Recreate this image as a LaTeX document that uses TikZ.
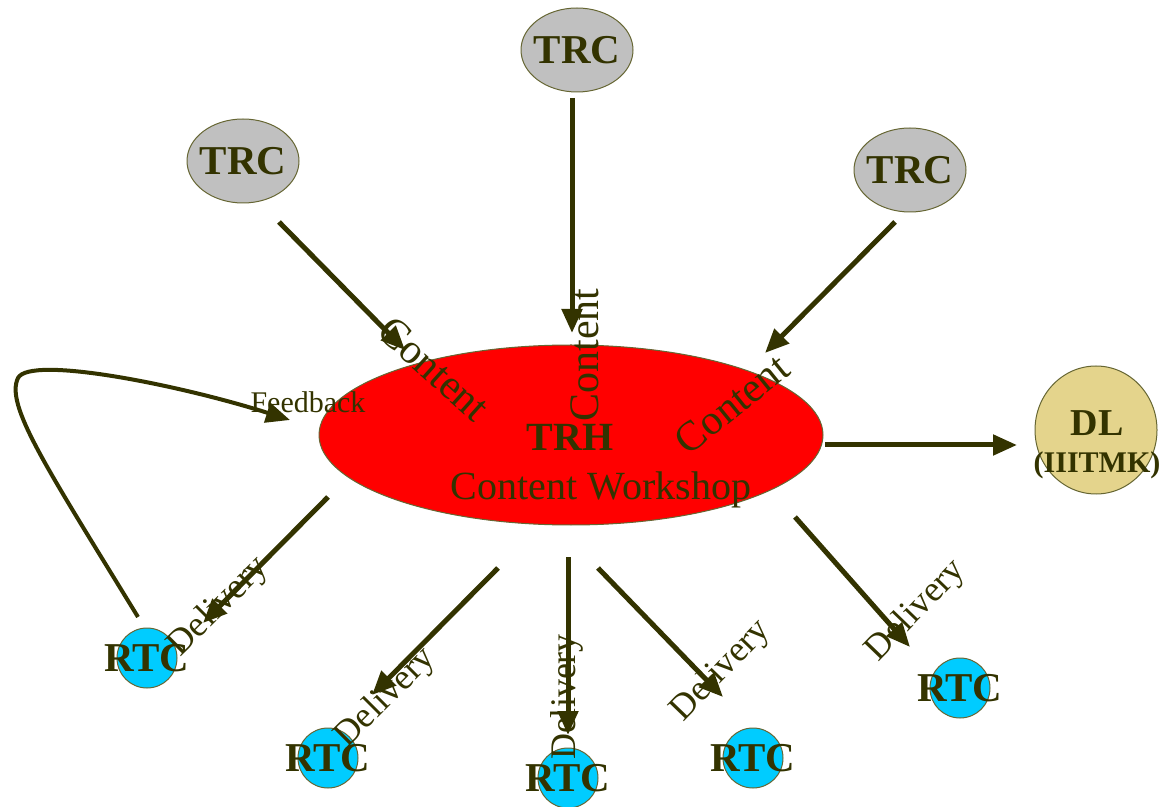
\documentclass[tikz,border=0pt]{standalone}
\usepackage{fontspec}
\setmainfont{Liberation Serif}
\usetikzlibrary{arrows.meta,shapes.geometric}
\definecolor{ink}{RGB}{51,51,0}
\definecolor{rim}{RGB}{102,102,51}
\definecolor{trcgray}{RGB}{192,192,192}
\definecolor{dlkhaki}{RGB}{228,212,140}
\definecolor{rtccyan}{RGB}{0,204,255}

\begin{document}
\begin{tikzpicture}[x=0.5pt,y=-0.5pt,
    flow/.style={ink,line width=2.5pt,-{Triangle[length=12pt,width=10pt]}},
    bigbold/.style={text=ink,inner sep=0pt,font=\fontsize{20.5}{20.5}\bfseries\selectfont},
    trcnode/.style={ellipse,draw=rim,line width=0.5pt,fill=trcgray,minimum width=56pt,minimum height=42pt,inner sep=0pt,label={[bigbold]center:TRC}},
    rtcnode/.style={circle,draw=rim,line width=0.5pt,fill=rtccyan,minimum size=30pt,inner sep=0pt,label={[bigbold]center:RTC}},
    contentlab/.style={text=ink,inner sep=0pt,font=\fontsize{21}{21}\selectfont},
    deliverylab/.style={text=ink,inner sep=0pt,font=\fontsize{18}{18}\selectfont}]
    \useasboundingbox (0,0) rectangle (1162,807);

    % nodes
    \node[trcnode] (trc1) at (243,161) {};
    \node[trcnode] (trc2) at (577,50) {};
    \node[trcnode] (trc3) at (910,170) {};
    \node[ellipse,draw=rim,line width=0.5pt,fill=red,minimum width=252pt,minimum height=90pt] (trh) at (571,435) {};
    \node[bigbold,font=\fontsize{20}{20}\bfseries\selectfont] (trhtext) at (570,437) {TRH};
    \node[text=ink,inner sep=0pt,font=\fontsize{20}{20}\selectfont] (workshop) at (601,490) {Content Workshop};
    \node[ellipse,draw=rim,line width=0.5pt,fill=dlkhaki,minimum width=61pt,minimum height=64pt] (dl) at (1096,430) {};
    \node[bigbold,font=\fontsize{19}{19}\bfseries\selectfont] (dltext) at (1097,423) {DL};
    \node[text=ink,inner sep=0pt,font=\fontsize{15}{15}\bfseries\selectfont] (dlsub) at (1097,465) {(IIITMK)};
    \node[rtcnode] (rtc1) at (147,658) {};
    \node[rtcnode] (rtc2) at (328,758) {};
    \node[rtcnode] (rtc3) at (568,778) {};
    \node[rtcnode] (rtc4) at (753,758) {};
    \node[rtcnode] (rtc5) at (960,688) {};

    % arrow ends
    \coordinate (c1s) at (279,222);
    \coordinate (c1e) at (405,350);
    \coordinate (c2s) at (572,98);
    \coordinate (c2e) at (572,333);
    \coordinate (c3s) at (895,222);
    \coordinate (c3e) at (765,353);
    \coordinate (dls) at (825,445);
    \coordinate (dle) at (1017,445);
    \coordinate (d1s) at (328,497);
    \coordinate (d1e) at (203,623);
    \coordinate (d2s) at (498,568);
    \coordinate (d2e) at (372,695);
    \coordinate (d3s) at (568,557);
    \coordinate (d3e) at (568,735);
    \coordinate (d4s) at (598,568);
    \coordinate (d4e) at (723,697);
    \coordinate (d5s) at (795,517);
    \coordinate (d5e) at (910,647);
    \coordinate (fbs) at (138,617);
    \coordinate (fbe) at (290,420);

    \draw[flow] (c1s) -- (c1e);
    \draw[flow] (c2s) -- (c2e);
    \draw[flow] (c3s) -- (c3e);
    \draw[flow] (dls) -- (dle);
    \draw[flow] (d1s) -- (d1e);
    \draw[flow] (d2s) -- (d2e);
    \draw[flow] (d3s) -- (d3e);
    \draw[flow] (d4s) -- (d4e);
    \draw[flow] (d5s) -- (d5e);
    \draw[flow,line width=2pt] (fbs) .. controls (45,465) and (5,405) .. (18,378) .. controls (30,355) and (180,385) .. (fbe);

    % labels
    \node[contentlab,rotate=-42] (cont1) at (434,369) {Content};
    \node[contentlab,rotate=90] (cont2) at (585,355) {Content};
    \node[contentlab,rotate=39] (cont3) at (732,404) {Content};
    \node[text=ink,inner sep=0pt,font=\fontsize{15}{15}\selectfont] (fblab) at (308,402) {Feedback};
    \node[deliverylab,rotate=45] (del1) at (219,607) {Delivery};
    \node[deliverylab,rotate=45] (del2) at (386,698) {Delivery};
    \node[deliverylab,rotate=90] (del3) at (567,697) {Delivery};
    \node[deliverylab,rotate=46] (del4) at (721,671) {Delivery};
    \node[deliverylab,rotate=46] (del5) at (916,611) {Delivery};
\end{tikzpicture}
\end{document}
